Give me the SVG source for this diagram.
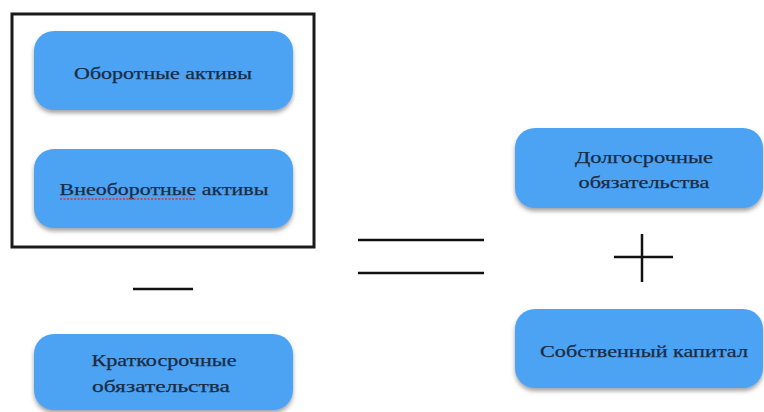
<svg xmlns="http://www.w3.org/2000/svg" width="764" height="412" viewBox="0 0 764 412">
<defs>
<filter id="sh" x="-10%" y="-10%" width="120%" height="130%">
<feDropShadow dx="0" dy="3" stdDeviation="2" flood-color="#555" flood-opacity="0.55"/>
</filter>
<style>
.box{fill:#4ea3f3;filter:url(#sh);}
.t{font-family:'Liberation Serif','Times New Roman',serif;font-size:16px;fill:#1a2c44;stroke:#1a2c44;stroke-width:0.25;text-anchor:middle;}
.op{stroke:#111;stroke-width:2.5;fill:none;}
</style>
</defs>
<rect id="frame" x="12" y="14" width="302" height="233" fill="none" stroke="#1a1a1a" stroke-width="3"/>
<g id="n1"><rect class="box" x="34" y="31" width="259" height="79" rx="20"/><text class="t" x="163" y="79" textLength="178" lengthAdjust="spacingAndGlyphs">Оборотные активы</text></g>
<g id="n2"><rect class="box" x="34" y="149" width="259" height="79" rx="20"/><text class="t" x="164" y="195" textLength="209" lengthAdjust="spacingAndGlyphs">Внеоборотные активы</text><path d="M60 199 L195 199" stroke="#e03030" stroke-width="1.5" stroke-dasharray="2 1.5"/></g>
<g id="n3"><rect class="box" x="34" y="334" width="259" height="76" rx="20"/><text class="t" x="164" y="366" textLength="145" lengthAdjust="spacingAndGlyphs">Краткосрочные</text><text class="t" x="161" y="392" textLength="138" lengthAdjust="spacingAndGlyphs">обязательства</text></g>
<g id="n4"><rect class="box" x="515" y="128" width="248" height="80" rx="20"/><text class="t" x="644" y="163" textLength="138" lengthAdjust="spacingAndGlyphs">Долгосрочные</text><text class="t" x="644" y="188" textLength="131" lengthAdjust="spacingAndGlyphs">обязательства</text></g>
<g id="n5"><rect class="box" x="515" y="309" width="248" height="79" rx="20"/><text class="t" x="644" y="357" textLength="208" lengthAdjust="spacingAndGlyphs">Собственный капитал</text></g>
<g id="connectors">
<line class="op" x1="133" y1="289" x2="193" y2="289"/>
<line class="op" x1="358" y1="240" x2="484" y2="240"/>
<line class="op" x1="358" y1="273" x2="484" y2="273"/>
<line class="op" x1="614" y1="257" x2="673" y2="257"/>
<line class="op" x1="642" y1="234" x2="642" y2="282"/>
</g>
</svg>
